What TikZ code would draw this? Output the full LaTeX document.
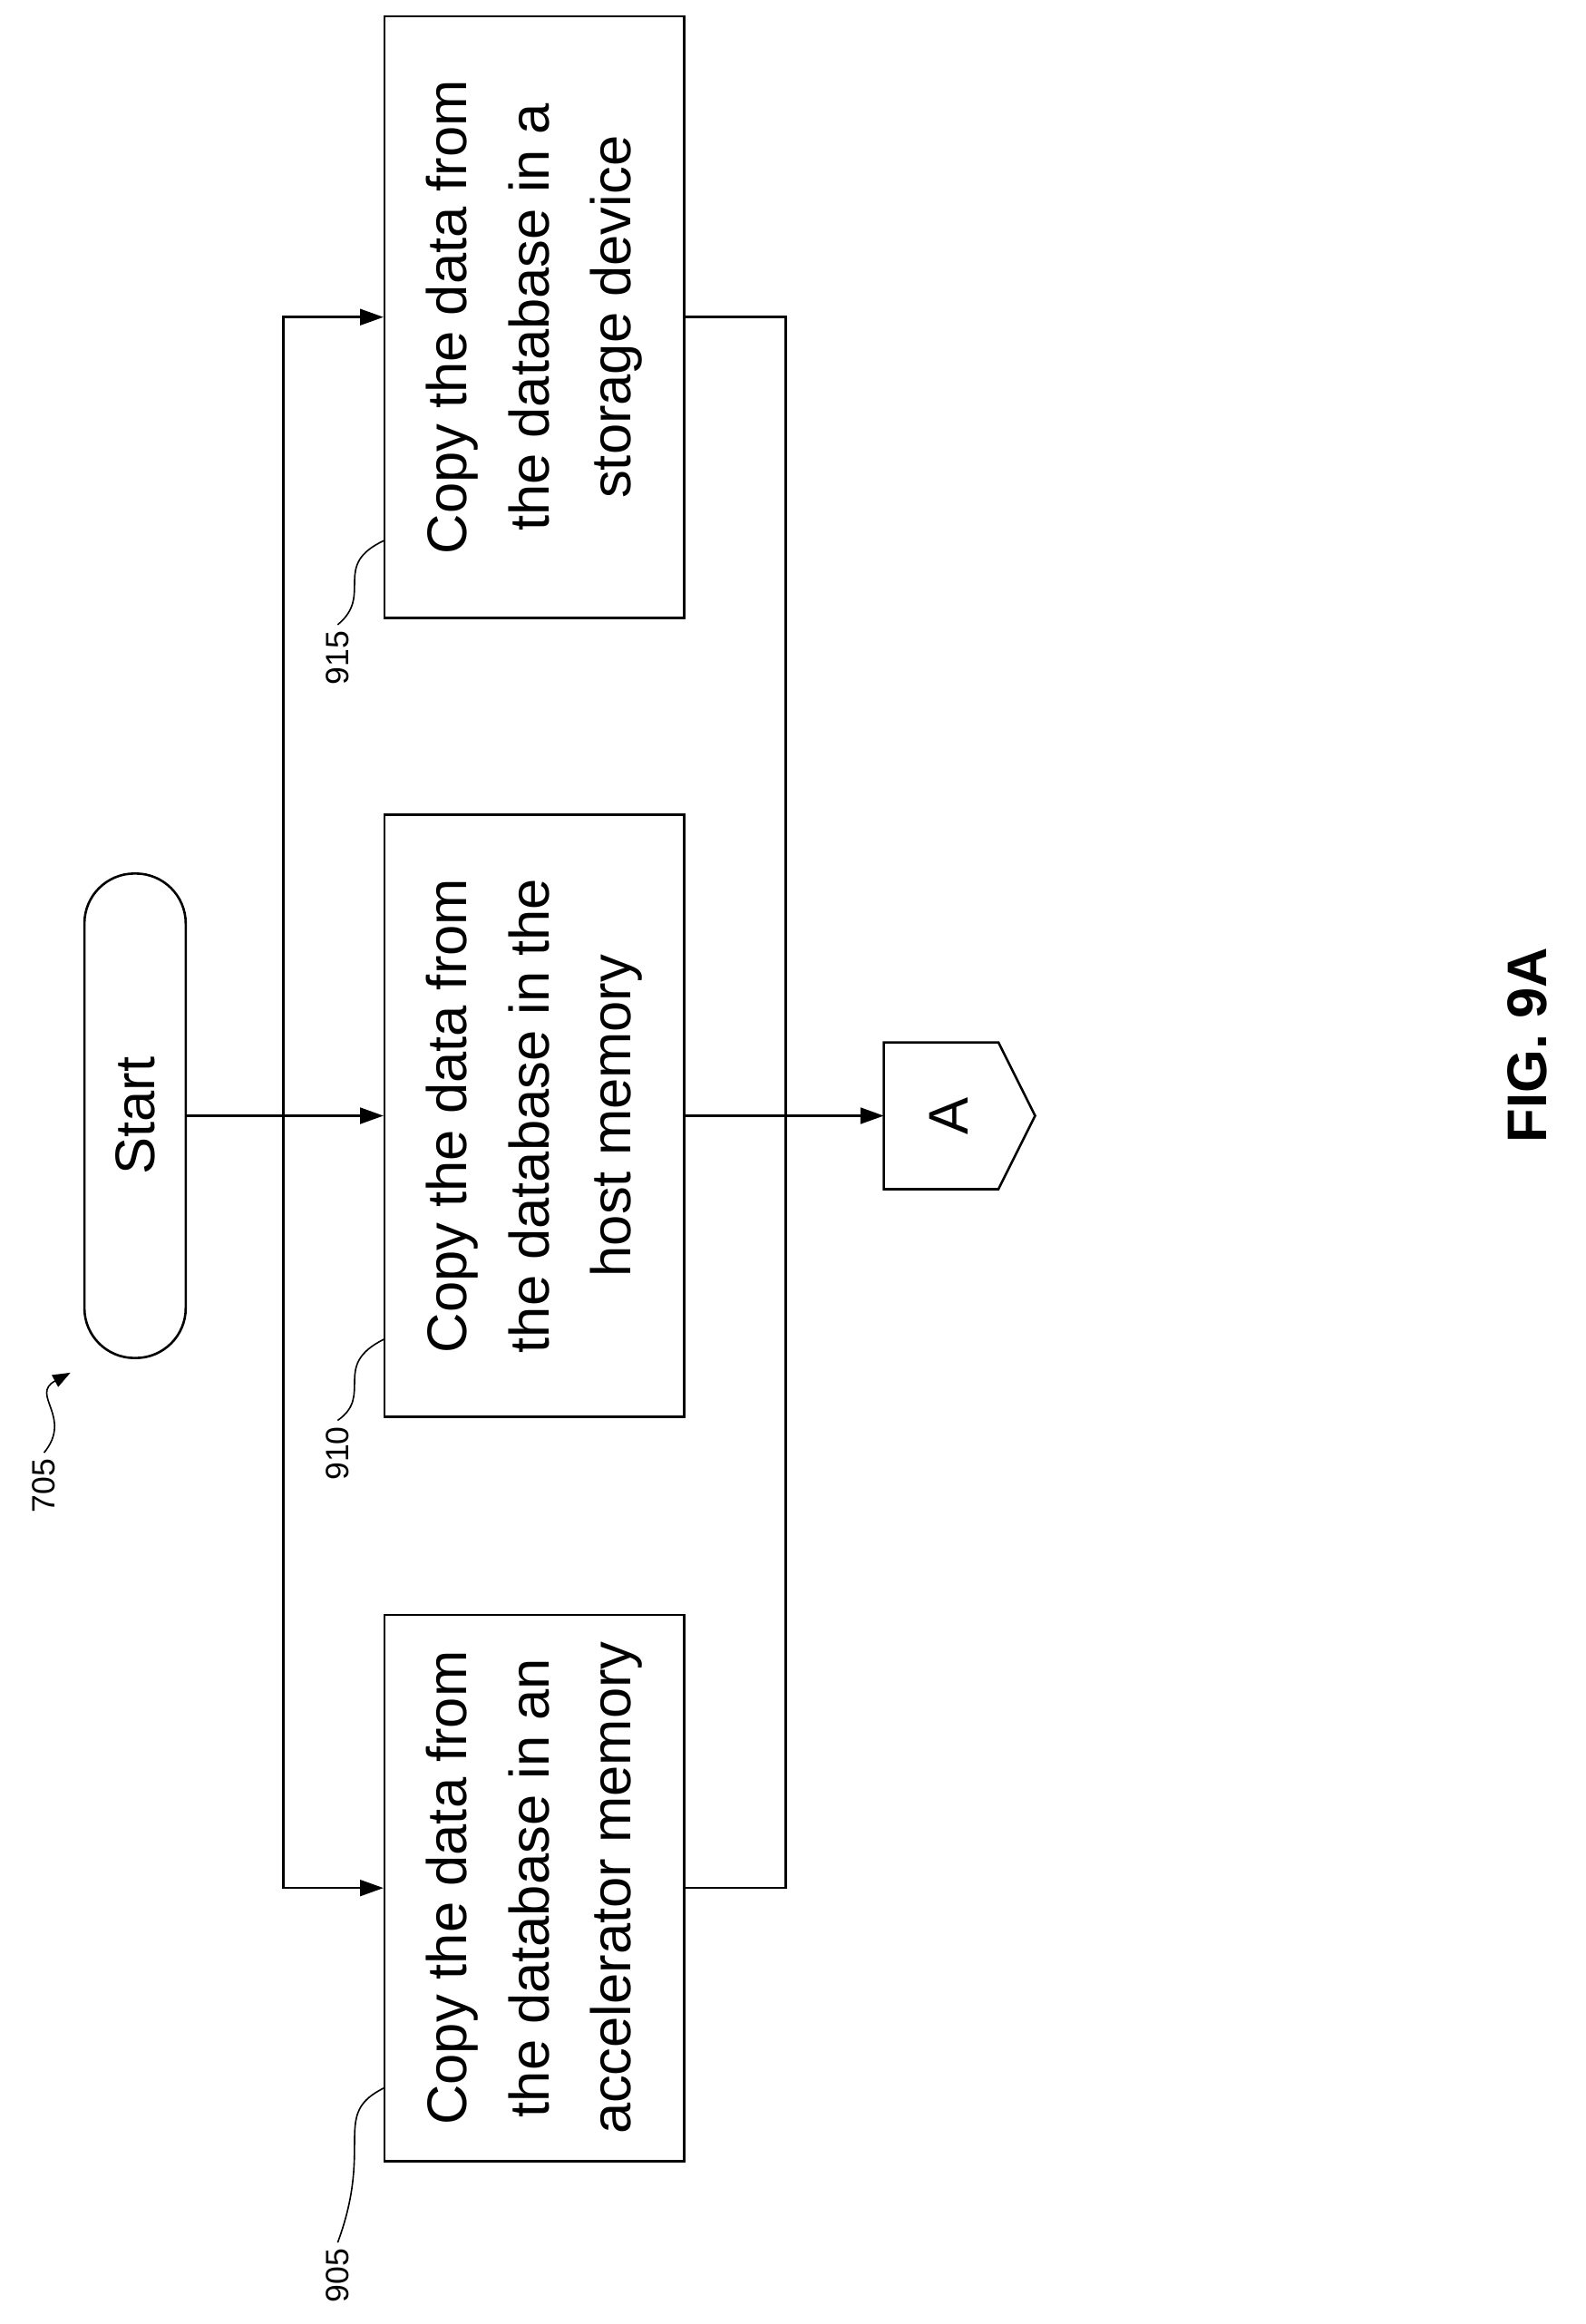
\documentclass[tikz,border=0pt]{standalone}
\usepackage{fontspec}
\setmainfont{Liberation Sans}
\usetikzlibrary{arrows.meta,shapes.geometric}
\begin{document}
\begin{tikzpicture}[x=1pt,y=-1pt,line width=1.6pt,
  box/.style={draw,minimum width=410pt,minimum height=204pt,rotate=90,align=center,font=\fontsize{38}{56}\selectfont},
  lab/.style={rotate=90,font=\fontsize{22}{26}\selectfont},
  arr/.style={-{Triangle[length=16pt,width=11pt]}}]
\useasboundingbox (0,0) rectangle (1080,1583);
\node[box] (b915) at (364,216) {Copy the data from\\the database in a\\storage device};
\node[box] (b910) at (364,760) {Copy the data from\\the database in the\\host memory};
\node[box,minimum width=372pt] (b905) at (364,1286) {Copy the data from\\the database in an\\accelerator memory};
\node[draw,rounded corners=34pt,minimum width=330pt,minimum height=69pt,rotate=90,font=\fontsize{38}{46}\selectfont] (start) at (92,760) {Start};
\coordinate (a1) at (602,710);\coordinate (a2) at (680,710);\coordinate (a3) at (705,760);
\coordinate (a4) at (680,810);\coordinate (a5) at (602,810);
\draw (a1)--(a2)--(a3)--(a4)--(a5)--cycle;
\node[rotate=90,font=\fontsize{38}{46}\selectfont] (A) at (646,760) {A};
\coordinate (Ain) at (602,760);
\coordinate (j) at (193,760);
\coordinate (r) at (535,760);
\draw[arr] (start.south) -- (b910.north);
\draw[arr] (j) |- (b915.north);
\draw[arr] (j) |- (b905.north);
\draw[arr] (b910.south) -- (Ain);
\draw (b915.south) -| (r);
\draw (b905.south) -| (r);
% labels
\node[lab] (l705) at (30,1012) {705};
\node[lab] (l910) at (230,990) {910};
\node[lab] (l905) at (230,1550) {905};
\node[lab] (l915) at (230,448) {915};
\draw[line width=1pt,-{Triangle[length=12pt,width=9pt]}] (l705.east) .. controls (50,965) and (20,950) .. (48,935);
\draw[line width=1pt] (l910.east) .. controls (255,950) and (225,930) .. (262,912);
\draw[line width=1pt] (l905.east) .. controls (255,1460) and (225,1440) .. (262,1422);
\draw[line width=1pt] (l915.east) .. controls (255,405) and (225,385) .. (262,368);
\node[rotate=90,font=\bfseries\fontsize{38}{46}\selectfont] (fig) at (1040,712) {FIG. 9A};
\end{tikzpicture}
\end{document}
